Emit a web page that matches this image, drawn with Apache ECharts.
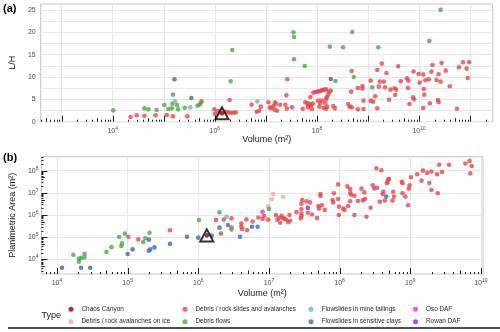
<!DOCTYPE html>
<html>
<head>
<meta charset="utf-8">
<script src="https://cdn.jsdelivr.net/npm/echarts@6/dist/echarts.min.js"></script>
<style>
  html, body { margin: 0; padding: 0; background: #fff; }
  #chart { width: 500px; height: 332px; }
</style>
</head>
<body>
<div id="chart"></div>
<script>
// data; volumes and areas are stored as log10 exponents
const typeNames = [
  'Chaos Canyon', 'Debris / rock avalanches on ice',
  'Debris / rock slides and avalanches', 'Debris flows',
  'Flowslides in mine tailings', 'Flowslides in sensitive clays',
  'Oso DAF', 'Rowan DAF'
];
const typeColors = ['#8b0000', '#f7a3ab', '#e4474d', '#4da649', '#6ab4b6', '#3b6cae', '#e52fe5', '#8a2be2'];

const lhTicks = [0, 5, 10, 15, 20, 25];
const volTicksA = [4, 6, 8, 10];
const volTicksB = [4, 5, 6, 7, 8, 9, 10];
const areaTicks = [4, 5, 6, 7, 8];
const logTickMults = [1, 2, 3, 4, 5, 6, 7, 8, 9];

// (a) [log10 volume, L/H]
const aChaos = [[6.14, 1.87]];
const aSlides = [
  [4.35, 1.05], [4.47, 1.42], [4.62, 1.34], [4.84, 1.42], [5.06, 1.49], [5.18, 1.19], [5.46, 1.19],
  [5.74, 4.55], [5.99, 2.76], [6.00, 1.71], [6.29, 4.85], [6.05, 2.31], [6.11, 2.46], [6.21, 2.24],
  [6.26, 2.09], [6.31, 2.01], [6.36, 2.01], [6.41, 2.09], [6.72, 3.80],
  [6.82, 2.24], [6.87, 2.46], [6.90, 3.36], [7.05, 4.33], [7.08, 3.21], [7.10, 2.98], [7.15, 3.51],
  [7.18, 4.33], [7.19, 3.95], [7.17, 2.69], [7.22, 2.46], [7.28, 3.80], [7.38, 3.80], [7.40, 5.89],
  [7.41, 2.91], [7.51, 3.21], [7.72, 2.91], [7.77, 4.33], [7.81, 4.18], [7.82, 3.73], [7.83, 3.21],
  [7.86, 3.95], [7.87, 5.52], [7.88, 3.58], [7.90, 2.83], [7.92, 4.03], [7.93, 6.49], [7.97, 6.64],
  [8.01, 6.71], [8.04, 6.79], [8.08, 6.94], [8.11, 7.09], [8.15, 7.16], [8.18, 7.23], [8.02, 4.70],
  [8.05, 3.36], [8.06, 4.18], [8.10, 4.70], [8.13, 3.06], [8.16, 4.10], [8.18, 5.00], [8.19, 5.44],
  [8.22, 6.04], [8.24, 6.64], [8.27, 6.94], [8.20, 3.36], [8.18, 2.91], [8.32, 3.51], [8.35, 2.98],
  [8.68, 11.34], [8.67, 6.71], [8.61, 3.95], [8.64, 3.36], [8.68, 3.21], [8.80, 2.76], [8.91, 4.70],
  [8.91, 2.83], [8.80, 7.53], [8.89, 7.98], [8.89, 7.38], [9.05, 9.17], [9.18, 11.56], [9.27, 12.98],
  [9.21, 7.83], [9.23, 8.95], [9.31, 8.95], [9.33, 7.68], [9.36, 10.89], [9.44, 7.16], [9.52, 7.46],
  [9.55, 7.16], [9.59, 12.38], [9.64, 9.02], [9.05, 4.70], [9.10, 4.48], [9.14, 5.67], [9.18, 2.98],
  [9.41, 4.92], [9.53, 5.97], [9.76, 9.70], [9.78, 7.53], [9.79, 9.17], [9.81, 3.95], [9.88, 5.44],
  [9.90, 5.00], [9.89, 11.19], [9.99, 10.66], [10.01, 8.73], [10.08, 10.52], [10.09, 7.31],
  [10.10, 6.04], [10.08, 3.06], [10.12, 9.25], [10.19, 9.47], [10.21, 4.10], [10.24, 11.19],
  [10.26, 12.68], [10.34, 9.32], [10.37, 4.85], [10.38, 4.33], [10.38, 10.59], [10.42, 8.95],
  [10.44, 13.13], [10.52, 11.41], [10.60, 7.91], [10.74, 2.91], [10.78, 12.16], [10.86, 13.28],
  [10.93, 11.86], [10.95, 9.77], [10.98, 13.28]
];
const aFlows = [
  [4.01, 2.54], [4.62, 2.98], [4.70, 2.76], [4.86, 2.61], [5.01, 3.73], [5.09, 2.83], [5.16, 2.98],
  [5.17, 4.03], [5.18, 6.04], [5.26, 3.73], [5.28, 2.76], [5.41, 3.13], [5.66, 3.58], [5.70, 3.80],
  [5.72, 4.10], [6.34, 16.03], [6.31, 9.02], [7.54, 19.99], [7.55, 18.94], [7.55, 13.95],
  [7.76, 12.45], [8.25, 16.78], [8.51, 16.63], [8.69, 20.06], [8.36, 9.10], [8.72, 9.99],
  [9.20, 16.63], [9.08, 7.68], [10.20, 18.05], [10.42, 24.98]
];
const aTailings = [[5.22, 4.55], [5.52, 3.21], [6.83, 4.5]];
const aClays = [[5.21, 9.47], [5.54, 5.30]];
const aOso = [[7.42, 9.47]];
const aRowan = [[8.27, 9.55]];

// (b) [log10 volume, log10 planimetric area]
const bChaos = [[6.12, 5.08]];
const bIce = [[6.99, 6.39], [7.04, 6.71], [7.06, 6.95], [7.20, 6.81]];
const bSlides = [
  [5.01, 5.02], [5.15, 4.90], [5.60, 5.31], [6.25, 5.77], [6.32, 5.17], [6.36, 5.80], [6.47, 5.85],
  [6.47, 5.44], [6.61, 5.62], [6.61, 5.47], [6.62, 5.37], [6.68, 5.80], [6.69, 5.32],
  [6.77, 5.71], [6.85, 5.89], [6.91, 5.82], [6.93, 5.95], [6.99, 5.79], [7.10, 6.00], [7.12, 5.79],
  [7.15, 5.88], [7.16, 5.65], [7.18, 5.97], [7.20, 5.86], [7.22, 5.83], [7.24, 5.80], [7.27, 5.68],
  [7.29, 6.00], [7.30, 5.74], [7.39, 6.13], [7.45, 5.85], [7.46, 5.95], [7.46, 6.07], [7.46, 6.51],
  [7.46, 6.27], [7.47, 6.68], [7.53, 6.62], [7.55, 6.10], [7.58, 6.57], [7.61, 6.02], [7.68, 5.86],
  [7.70, 6.41], [7.71, 6.29], [7.73, 6.86], [7.73, 6.95], [7.75, 6.44], [7.79, 6.23], [7.90, 6.68],
  [7.91, 6.57], [7.92, 6.98], [7.98, 7.38], [7.98, 6.72], [7.99, 6.38], [7.99, 6.00], [8.05, 6.29],
  [8.07, 6.23], [8.11, 7.29], [8.12, 6.41], [8.15, 6.99], [8.15, 7.17], [8.16, 6.92], [8.15, 6.62],
  [8.21, 6.87], [8.21, 6.00], [8.26, 6.63], [8.31, 7.19], [8.33, 6.66], [8.35, 7.02], [8.36, 6.72],
  [8.38, 5.92], [8.44, 6.33], [8.47, 7.34], [8.49, 7.20], [8.52, 8.11], [8.53, 7.23], [8.57, 6.60],
  [8.59, 8.02], [8.61, 6.95], [8.62, 7.05], [8.64, 6.65], [8.67, 7.43], [8.68, 7.50], [8.69, 7.61],
  [8.70, 7.62], [8.76, 7.05], [8.75, 6.65], [8.77, 6.83], [8.88, 7.50], [8.89, 7.43], [8.89, 6.98],
  [8.93, 6.83], [8.97, 6.44], [8.99, 7.34], [8.98, 7.19], [9.01, 7.70], [9.10, 7.84], [9.16, 7.55],
  [9.18, 8.00], [9.24, 7.90], [9.27, 7.44], [9.30, 7.13], [9.30, 7.96], [9.38, 7.84], [9.39, 6.98],
  [9.41, 8.27], [9.45, 7.94], [9.55, 8.27], [9.78, 8.32], [9.84, 8.44], [9.87, 8.21], [9.85, 7.88]
];
const bFlows = [
  [4.23, 4.21], [4.31, 3.89], [4.31, 4.03], [4.34, 4.06], [4.39, 4.25], [4.39, 4.09], [4.70, 4.33],
  [4.77, 4.55], [4.88, 5.01], [4.91, 4.60], [4.92, 4.72], [4.96, 5.16], [5.22, 4.78], [5.25, 4.95],
  [5.31, 5.20], [6.01, 5.77], [6.30, 6.12], [6.47, 5.35], [7.00, 6.27]
];
const bTailings = [[6.40, 5.92]];
const bClays = [
  [4.07, 3.62], [4.34, 3.62], [4.47, 3.62], [5.00, 4.24], [5.07, 4.45], [5.30, 4.89], [5.30, 4.39],
  [5.32, 4.45], [5.38, 4.54], [5.60, 4.70], [5.84, 5.02], [6.00, 4.98], [6.19, 5.07], [6.30, 5.43],
  [6.42, 5.55], [6.59, 5.02], [6.76, 5.47], [6.84, 5.47], [8.66, 6.83]
];
const bOso = [[6.91, 6.14]];
const bRowan = [[7.55, 6.32]];

const aSeries = [aChaos, [], aSlides, aFlows, aTailings, aClays, aOso, aRowan];
const bSeries = [bChaos, bIce, bSlides, bFlows, bTailings, bClays, bOso, bRowan];

const ax = { min: 2.59, max: 11.44 }, ay = { min: 0, max: 26.3 };
const bx = { min: 3.78, max: 10.03 }, by = { min: 3.34, max: 8.63 };

const txt = '#4d4d4d';
const gridCol = '#e8e8e8';
const font = 'Liberation Sans, Arial, sans-serif';
const tickLen = [0, 2, 3.5, 6];

function logTicks(min, max) {
  const out = [];
  for (let n = Math.floor(min); n <= Math.ceil(max); n++) {
    logTickMults.forEach(k => {
      const v = n + Math.log10(k);
      if (v >= min && v <= max) out.push([v, k === 1 ? 3 : (k === 5 ? 2 : 1)]);
    });
  }
  return out;
}
function range(min, max, step) {
  const out = [];
  for (let v = Math.ceil(min / step) * step; v <= max + 1e-9; v += step) out.push(+v.toFixed(4));
  return out;
}
const powLabel = v => '{b|10}{s|' + v + '}';
const powRich = {
  b: { fontSize: 7, color: txt, lineHeight: 10, fontFamily: font },
  s: { fontSize: 5, color: txt, lineHeight: 6, verticalAlign: 'top', fontFamily: font }
};

function logAxis(grid, r, labels, extra) {
  return Object.assign({
    type: 'value', gridIndex: grid, min: r.min, max: r.max,
    axisLine: { show: false }, axisTick: { show: false, customValues: range(r.min, r.max, 1) },
    axisLabel: { customValues: labels, formatter: powLabel, rich: powRich, margin: 4 },
    splitLine: { show: true, lineStyle: { color: gridCol, width: 1 } },
    nameLocation: 'middle',
    nameTextStyle: { fontSize: 9, color: '#1a1a1a', fontFamily: font }
  }, extra);
}

const series = [];
typeNames.forEach((name, i) => {
  series.push({
    name, type: 'scatter', xAxisIndex: 0, yAxisIndex: 0, data: aSeries[i],
    symbolSize: 4.6, itemStyle: { color: typeColors[i] }, z: i === 0 ? 5 : 2, silent: true
  });
  series.push({
    name, type: 'scatter', xAxisIndex: 1, yAxisIndex: 1, data: bSeries[i],
    symbolSize: 4.6, itemStyle: { color: typeColors[i] }, z: i === 0 ? 5 : 2, silent: true
  });
});
// open triangles around Chaos Canyon
[[0, aChaos], [1, bChaos]].forEach(([g, d]) => series.push({
  type: 'scatter', xAxisIndex: g, yAxisIndex: g, data: d, symbol: 'triangle', symbolSize: [13, 12],
  itemStyle: { color: '#fff', borderColor: '#000', borderWidth: 2 }, z: 4, silent: true
}));
// log ticks: bottom of both panels, left of (b)
function bottomTicks(g, yMin, data) {
  return {
    type: 'custom', xAxisIndex: g, yAxisIndex: g, data, silent: true, z: 3,
    renderItem: (p, api) => {
      const c = api.coord([api.value(0), yMin]);
      const x = Math.round(c[0]) + 0.5;
      return { type: 'line', shape: { x1: x, y1: c[1], x2: x, y2: c[1] - tickLen[api.value(1)] },
        style: { stroke: '#222', lineWidth: 1 } };
    }
  };
}
series.push(bottomTicks(0, ay.min, logTicks(ax.min, ax.max)));
series.push(bottomTicks(1, by.min, logTicks(bx.min, bx.max)));
series.push({
  type: 'custom', xAxisIndex: 1, yAxisIndex: 1, silent: true, z: 3,
  data: logTicks(by.min, by.max).map(d => [bx.min, d[0], d[1]]),
  renderItem: (p, api) => {
    const c = api.coord([bx.min, api.value(1)]);
    const y = Math.round(c[1]) + 0.5;
    return { type: 'line', shape: { x1: c[0], y1: y, x2: c[0] + tickLen[api.value(2)], y2: y },
      style: { stroke: '#222', lineWidth: 1 } };
  }
});

// legend: 4 columns x 2 rows, filled column by column
const legendLeft = [68.5, 182.5, 308.5, 413];
const legendTop = [304.8, 317.2];

const chart = echarts.init(document.getElementById('chart'), null, { renderer: 'canvas' });
chart.setOption({
  animation: false,
  textStyle: { fontFamily: font },
  grid: [
    { left: 31.7, right: 7.3, top: 4, height: 117.7, show: true, borderColor: '#c4c4c4', borderWidth: 1, backgroundColor: '#fff' },
    { left: 39.3, right: 17, top: 156.7, height: 117.3, show: true, borderColor: '#c4c4c4', borderWidth: 1, backgroundColor: '#fff' }
  ],
  xAxis: [
    logAxis(0, ax, volTicksA, { name: 'Volume (m²)', nameGap: 12 }),
    logAxis(1, bx, volTicksB, { name: 'Volume (m²)', nameGap: 15 })
  ],
  yAxis: [
    {
      type: 'value', gridIndex: 0, min: ay.min, max: ay.max,
      axisLine: { show: false }, axisTick: { show: false, customValues: range(0, 26, 2.5) },
      axisLabel: { customValues: lhTicks, fontSize: 7, color: txt, margin: 5 },
      splitLine: { show: true, lineStyle: { color: gridCol, width: 1 } },
      name: 'L/H', nameLocation: 'middle', nameGap: 13,
      nameTextStyle: { fontSize: 9, color: '#1a1a1a', fontFamily: font }
    },
    logAxis(1, by, areaTicks, { name: 'Planimetric Area (m²)', nameGap: 20,
      axisLabel: { customValues: areaTicks, formatter: powLabel, rich: powRich, margin: 3 } })
  ],
  legend: typeNames.map((name, i) => ({
    orient: 'horizontal', left: legendLeft[Math.floor(i / 2)], top: legendTop[i % 2], padding: 0,
    itemWidth: 5, itemHeight: 5, icon: 'circle', selectedMode: false,
    data: [name],
    textStyle: { fontSize: 6.4, color: '#2b2b2b', lineHeight: 9, padding: [0, 0, 0, 3], fontFamily: font }
  })),
  graphic: [
    { type: 'text', left: 3, top: 3, style: { text: '(a)', font: 'bold 11px ' + font, fill: '#000' } },
    { type: 'text', left: 3, top: 152, style: { text: '(b)', font: 'bold 11px ' + font, fill: '#000' } },
    { type: 'text', left: 41.5, top: 311, style: { text: 'Type', font: '9px ' + font, fill: '#1a1a1a' } },
    { type: 'rect', left: 8, top: 327, shape: { width: 492, height: 2 }, style: { fill: '#4a5258' } }
  ],
  series
});
</script>
</body>
</html>
